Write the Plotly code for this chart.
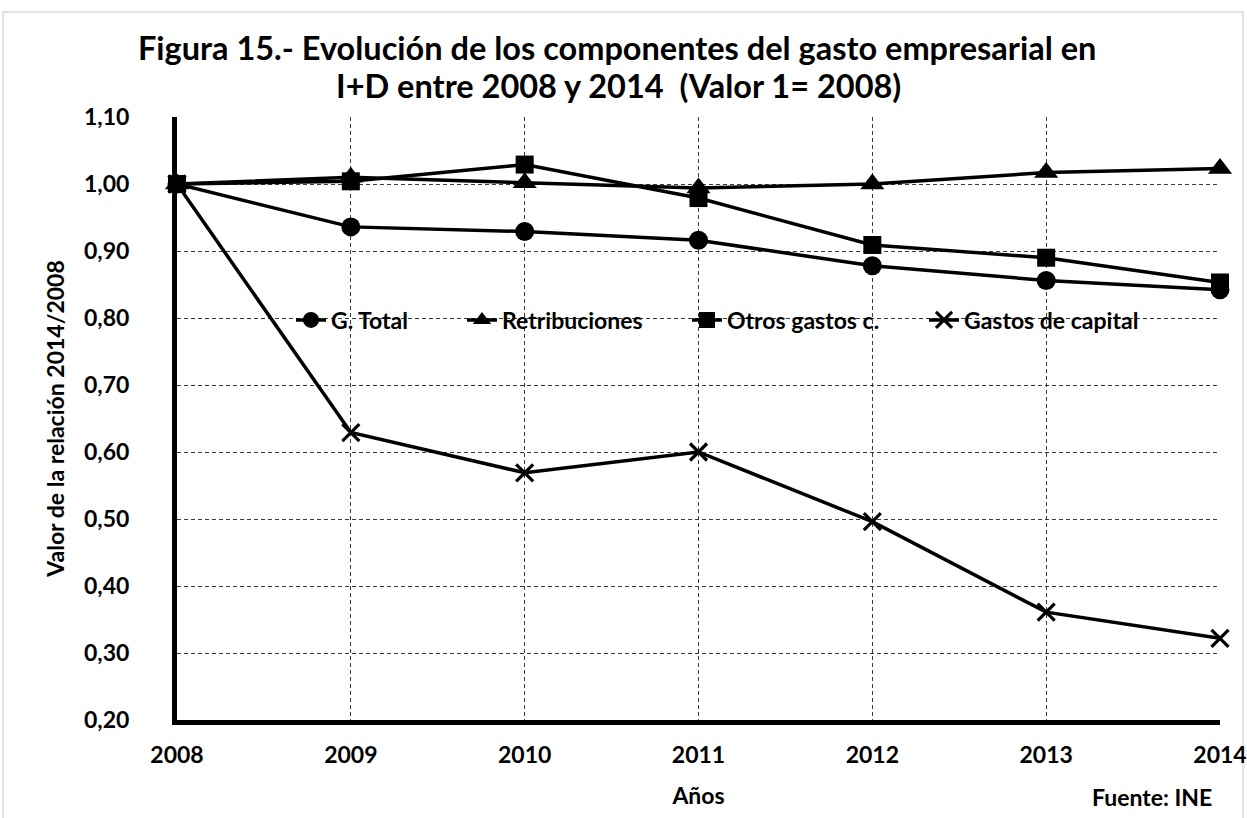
import plotly.graph_objects as go

# Años y series (índice, valor 1 = 2008)
years = [2008, 2009, 2010, 2011, 2012, 2013, 2014]
g_total = [1.000, 0.936, 0.929, 0.916, 0.878, 0.856, 0.842]
retribuciones = [1.000, 1.010, 1.002, 0.994, 1.000, 1.017, 1.023]
otros_gastos = [1.000, 1.004, 1.029, 0.979, 0.909, 0.890, 0.853]
gastos_capital = [1.000, 0.629, 0.569, 0.600, 0.496, 0.361, 0.322]

series = [
    ("G. Total", g_total, "circle", 19),
    ("Retribuciones", retribuciones, "triangle-up", 21),
    ("Otros gastos c.", otros_gastos, "square", 18),
    ("Gastos de capital", gastos_capital, "x-thin", 17),
]

FONT = "Lato"
TXT = 23

# Plot area in pixels: left 177, right 1220, top 117, bottom 720
L, R, T, B = 177, 1220, 117, 720


def px_x(px):
    return (px - L) / (R - L)


def px_y(py):
    return (B - py) / (B - T)


fig = go.Figure()
legend_keys = ["legend", "legend2", "legend3", "legend4"]
for (name, vals, symbol, size), lg in zip(series, legend_keys):
    marker = dict(symbol=symbol, size=size, color="black",
                  line=dict(color="black", width=3.2 if symbol == "x-thin" else 0))
    fig.add_trace(go.Scatter(
        x=years, y=vals, name=name, mode="lines+markers",
        line=dict(color="black", width=3.5),
        marker=marker, cliponaxis=False, legend=lg,
    ))

# one legend box per series so each entry sits where it belongs on the 0,80 line
legend_marker_px = [316, 487, 712, 949]
legend_layout = {}
for lg, mx in zip(legend_keys, legend_marker_px):
    legend_layout[lg] = dict(
        orientation="h", x=px_x(mx - 25), xanchor="left",
        y=px_y(320), yanchor="middle",
        bgcolor="rgba(0,0,0,0)", borderwidth=0,
        font=dict(family=FONT, size=TXT, weight="bold", color="black"),
        itemwidth=30,
    )

fig.update_layout(
    width=1247, height=818,
    paper_bgcolor="white", plot_bgcolor="white",
    margin=dict(l=L, r=1247 - R, t=T, b=818 - B, autoexpand=False),
    separators=",.",
    font=dict(family=FONT, color="black", size=TXT, weight="bold"),
    showlegend=True,
    xaxis=dict(
        range=[2008, 2014], tickmode="array", tickvals=years,
        ticktext=[str(y) for y in years], automargin=False,
        showline=True, linecolor="black", linewidth=5,
        showgrid=True, gridcolor="#3a3a3a", gridwidth=1, griddash="4px,3px",
        zeroline=False, ticks="", ticklabelstandoff=10,
        tickfont=dict(size=TXT, weight="bold"),
        title=dict(text="Años", standoff=23, font=dict(size=TXT, weight="bold")),
    ),
    yaxis=dict(
        range=[0.20, 1.10], dtick=0.10, tick0=0.20, tickformat=".2f",
        automargin=False,
        showline=True, linecolor="black", linewidth=5,
        showgrid=True, gridcolor="#3a3a3a", gridwidth=1, griddash="4px,3px",
        zeroline=False, ticks="", ticklabelstandoff=38,
        tickfont=dict(size=TXT, weight="bold"),
        title=dict(text="Valor de la relación 2014/2008", standoff=14,
                   font=dict(size=TXT, weight="bold")),
    ),
    annotations=[
        dict(text="Figura 15.- Evolución de los componentes del gasto empresarial en",
             xref="paper", yref="paper", x=px_x(617), y=px_y(48),
             xanchor="center", yanchor="middle", showarrow=False,
             font=dict(family=FONT, size=32.5, weight="bold", color="black")),
        dict(text="I+D entre 2008 y 2014  (Valor 1= 2008)",
             xref="paper", yref="paper", x=px_x(618), y=px_y(85),
             xanchor="center", yanchor="middle", showarrow=False,
             font=dict(family=FONT, size=32.5, weight="bold", color="black")),
        dict(text="Fuente: INE", xref="paper", yref="paper", x=px_x(1214), y=px_y(797),
             xanchor="right", yanchor="middle", showarrow=False,
             font=dict(family=FONT, size=TXT, weight="bold", color="black")),
    ],
    shapes=[
        dict(type="rect", xref="paper", yref="paper",
             x0=px_x(3), x1=px_x(1243), y0=px_y(830), y1=px_y(12),
             line=dict(color="#d9d9d9", width=1.5), fillcolor="rgba(0,0,0,0)",
             layer="below"),
    ],
    **legend_layout,
)

fig.write_html("out.html")
